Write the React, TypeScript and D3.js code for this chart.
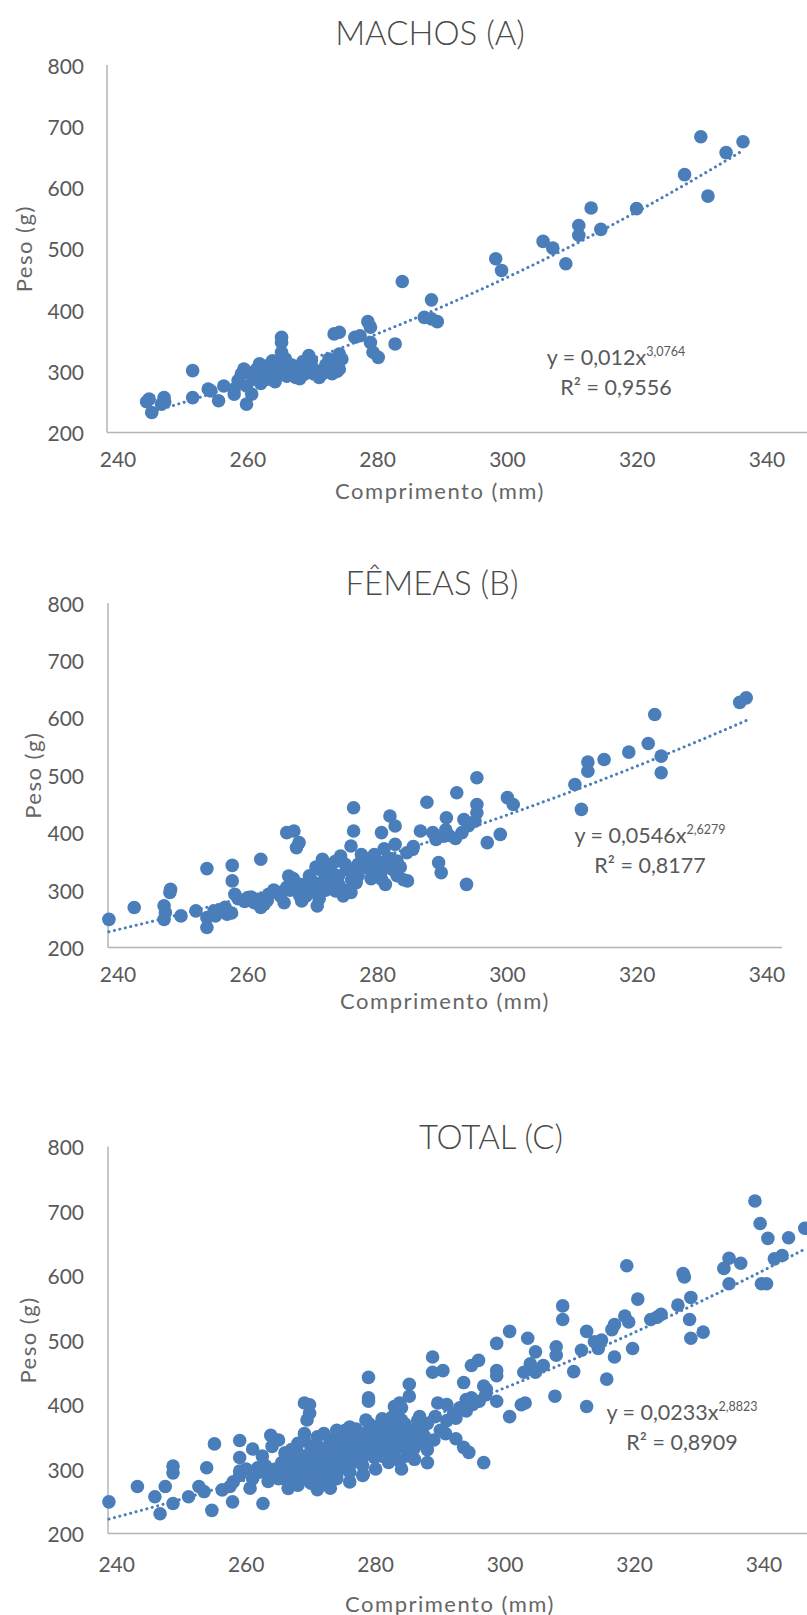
import React from "react";
import * as d3 from "d3";

const W = 807;
const H = 1615;
const BLUE = "#4a7ebb";
const TEXT = "#595959";
const AXIS = "#b4b4b4";
const FONT = "Lato, 'Open Sans', sans-serif";

const xTicks = [240, 260, 280, 300, 320, 340];
const yTicks = [200, 300, 400, 500, 600, 700, 800];

// comprimento (mm), peso (g)
const machos: [number, number][] = [
  [244.8, 254.5], [245.2, 232.7], [244.4, 250.3], [246.7, 246.4], [247.1, 257], [247.2, 250],
  [251.5, 301], [251.5, 257], [253.9, 271], [254.3, 268], [255.5, 251.8], [256.3, 276],
  [257.9, 271], [257.9, 262.7], [258.5, 285], [259, 295.5], [259.4, 303.6], [259.8, 276],
  [259.8, 246.4], [260.6, 262.7], [260.6, 292.7], [260.2, 298], [261.4, 303.6], [261.8, 312],
  [261, 287], [262, 280], [262.5, 300], [263, 309], [263, 287], [263.5, 296], [263.8, 317],
  [264, 305], [264.2, 283], [264.6, 292.7], [264.8, 312], [265.2, 355.5], [265.2, 347],
  [265.2, 331], [265.5, 300], [265.8, 320], [266, 292], [266.8, 310], [267.4, 290], [267.5, 298],
  [268, 288], [268.5, 316], [268.6, 303.6], [269.4, 325.5], [269.4, 309], [269.8, 318],
  [270.2, 295.5], [270.5, 300], [271, 290], [271.4, 301], [272, 310], [272.5, 320], [272.5, 306],
  [273, 296], [273.3, 314.6], [273.3, 361], [273.8, 300], [274.1, 303.6], [274.1, 328],
  [274.1, 363.7], [274.5, 320], [276.5, 355.5], [277.3, 358], [278.5, 381], [278.9, 372],
  [278.9, 347], [279.3, 331], [280.1, 322.7], [282.7, 344.6], [283.8, 446.6], [287.2, 388],
  [288.3, 385.5], [288.3, 416.6], [289.2, 381], [298.2, 483.7], [299.1, 464.6], [305.5, 512],
  [307, 501], [309, 475.5], [311, 538], [311, 522], [312.9, 566.6], [314.4, 531.7],
  [319.9, 565.5], [327.3, 621], [329.8, 682.8], [330.9, 586], [333.7, 657], [336.3, 674.6],
  [262.8, 292], [264.5, 300], [266.5, 297], [267, 305], [270, 305], [271.5, 296], [263.5, 288],
  [268.7, 295], [272.3, 300], [261.5, 295],
];

const femeas: [number, number][] = [
  [238.6, 249], [242.5, 269.6], [247.1, 272.5], [247.1, 249], [247.3, 261], [248.1, 301.4],
  [248, 295.7], [249.7, 255], [252, 263.8], [253.7, 252], [253.7, 234.8], [253.7, 337.4],
  [254.8, 263.8], [255, 255], [256, 266.7], [256.5, 270], [256.8, 258], [257.5, 260],
  [257.6, 343], [257.6, 316], [258, 292.8], [258.5, 285], [259.5, 280], [260, 287],
  [260.5, 288], [261, 278], [261.6, 284], [262, 269.6], [262, 353.6], [262.5, 275], [263, 282],
  [263.2, 292.8], [264, 300], [264.8, 295.7], [265, 290], [265.6, 278], [266, 400], [266, 305],
  [266.3, 324.6], [267, 320], [267.1, 403], [267.1, 316], [267.5, 374], [267.9, 382.6],
  [268, 290], [268.3, 281], [268.7, 301.4], [268.8, 310], [269.5, 295.7], [269.5, 325],
  [270, 300], [270.5, 340], [270.7, 272.5], [271, 285], [271.1, 336], [271.5, 353.6],
  [271.8, 318], [272.2, 345], [272.7, 318.8], [273, 330], [273.5, 298.6], [273.5, 350],
  [274, 310], [274.3, 359.4], [274.7, 290], [274.8, 300], [275.5, 335], [275.9, 295.7],
  [275.9, 376.8], [276, 318], [276.3, 443.5], [276.3, 403], [276.7, 313], [277, 345],
  [277.5, 362], [278, 355], [278.5, 338], [279, 353.6], [279, 320], [279.5, 362], [279.8, 330.4],
  [280, 345], [280.5, 330], [280.6, 318.8], [280.6, 400], [281, 372], [281.2, 310],
  [281.5, 353.6], [281.9, 429], [282, 340], [282.3, 336], [282.7, 411.6], [282.7, 379.7],
  [283, 350.7], [283, 325], [284, 318], [284.5, 365], [284.6, 316], [285.4, 371], [285.5, 376],
  [286.6, 403], [287.6, 453], [288.5, 400], [289, 388], [289.4, 347.8], [289.8, 330.4],
  [290.2, 394], [290.5, 405], [290.6, 426], [291, 395], [292, 390], [292.2, 469.6], [293, 400],
  [293.3, 423], [293.7, 310], [294, 412], [295, 420], [295.3, 449], [295.3, 434.8],
  [295.3, 495.6], [296.9, 382.6], [298.9, 397], [300, 461], [300.9, 449], [310.4, 484],
  [311.4, 440.6], [312.4, 523], [312.4, 507], [314.9, 527.5], [318.7, 540.3], [321.7, 555.4],
  [322.7, 605.8], [323.7, 533.3], [323.7, 504.3], [335.8, 627], [336.8, 634.8],
  [266.5, 300], [268, 310], [270, 315], [272, 300], [274, 325], [276, 330], [278, 340],
  [280, 350], [282, 355], [283.5, 340], [279, 335], [277, 325], [275, 345], [273, 315],
  [271, 305], [269, 290],
];

const total: [number, number][] = [
  [238.8, 249.1], [243.2, 272.9], [245.9, 257], [246.7, 230.6], [247.5, 272.9], [248.7, 246.5],
  [248.7, 294], [248.7, 304.6], [251.1, 257], [252.7, 272.9], [253.5, 265], [253.9, 302],
  [254.7, 235.9], [255.1, 338.9], [256.3, 267.6], [257.5, 272.9], [257.9, 249.1], [258, 280],
  [259, 290], [259, 296.7], [259, 317.8], [259, 344.2], [260, 300], [260.6, 270.3], [261, 285],
  [261, 331], [261.8, 302], [262, 295], [262.6, 246.5], [262.5, 320], [263, 305], [263.4, 280.8],
  [263.8, 352.1], [264, 290], [264, 335], [264.5, 300], [265, 285], [265, 345], [265.4, 286],
  [265.5, 310], [265.8, 307.2], [266, 295], [266, 325], [266.5, 280], [266.5, 270], [266.6, 323],
  [267, 300], [267, 330], [267.5, 315], [267.8, 333.6], [267.8, 275.5], [268, 290], [268, 340],
  [268, 275], [268.5, 305], [269, 320], [269, 345], [269, 354.8], [269, 402.3], [269.4, 375.9],
  [269.5, 285], [269.8, 386.5], [269.8, 399.7], [270, 300], [270, 335], [270, 278], [270.5, 312],
  [271, 295], [271, 350], [271, 268], [271.3, 333.6], [271.5, 325], [272, 305], [272, 355],
  [272, 280], [272.5, 290], [273, 318], [273, 345], [273, 344.2], [273, 270.3], [273.5, 335],
  [274, 300], [274, 360], [274, 285], [274.1, 354.8], [274.5, 322], [275, 310], [275, 355],
  [275.3, 360], [275.5, 340], [276, 295], [276, 365], [276, 280], [276.5, 330], [276.9, 344.2],
  [276.9, 328.4], [277, 315], [277.5, 350], [278, 305], [278, 290], [278.1, 291.4], [278.5, 340],
  [278.5, 333.6], [278.5, 375.9], [278.9, 405], [278.9, 410.2], [278.9, 442], [279, 325],
  [279.5, 360], [280, 335], [280, 300], [280.1, 365.3], [280.5, 350], [281, 320], [281.3, 352.1],
  [281.5, 365], [281.7, 320.4], [282, 340], [282, 310], [282.5, 380], [282.5, 360], [282.9, 397],
  [283, 330], [283, 385], [283.5, 355], [283.7, 402.3], [283.7, 312.5], [284, 345], [284, 375.9],
  [284, 300], [284, 395], [284.5, 370], [284.8, 320.4], [285, 325], [285.2, 412.9],
  [285.2, 431.4], [285.5, 360], [286, 350], [286, 315], [286, 333.6], [286.5, 375],
  [286.8, 381.2], [287, 340], [287.6, 349.5], [288, 370.6], [288, 309.9], [288, 330],
  [288.8, 449.9], [288.8, 473.6], [289, 345], [289.2, 381.2], [289.6, 402.3], [290, 360],
  [290.4, 452.5], [290.8, 354.8], [291, 375], [291, 400], [292, 385], [292.4, 378.6],
  [292.4, 346.9], [293, 395], [293.2, 391.8], [293.6, 434], [293.6, 333.6], [294, 407.6],
  [294, 390], [294.4, 325.7], [294.8, 410.2], [294.8, 460.4], [295, 400], [295.9, 468.4],
  [296, 405], [296.7, 428.7], [296.7, 309.9], [297, 415], [297.1, 423.5], [298.7, 405],
  [298.7, 444.6], [298.7, 452.5], [298.7, 494.7], [300.7, 381.2], [300.7, 513.3],
  [302.5, 399.7], [302.9, 449.9], [303.1, 402.3], [303.5, 502.7], [303.9, 463], [304.7, 449.9],
  [304.7, 481.6], [305.9, 460.4], [307.7, 412.9], [307.9, 476.3], [307.9, 489.5],
  [308.9, 531.7], [308.9, 552.9], [310.6, 451], [311.8, 484.2], [312.6, 397], [312.6, 513.3],
  [313.8, 497.4], [314.4, 486.8], [314.9, 500], [315.7, 439.3], [316.5, 516], [316.9, 473.6],
  [316.9, 523.8], [318.5, 537], [318.8, 615.2], [319.1, 528], [319.7, 486.8], [320.5, 563.4],
  [322.5, 531.7], [323.5, 535.4], [324.1, 539.7], [326.7, 554], [327.5, 603], [327.7, 597.8],
  [328.5, 531.7], [328.7, 566], [328.7, 502.7], [330.6, 512.2], [333.8, 611], [334.6, 626.8],
  [334.6, 587.2], [336.4, 619], [338.6, 715.6], [339.4, 680.7], [339.6, 587.2], [340.4, 587.2],
  [340.6, 657.5], [341.6, 625.8], [342.8, 631], [343.8, 658.5], [346.3, 673.3],
  [264.8, 295], [265.7, 303], [266.3, 288], [266.8, 312], [267.3, 296], [267.8, 305],
  [268.3, 318], [268.8, 295], [269.3, 308], [269.8, 292], [270.3, 325], [270.8, 305],
  [271.3, 315], [271.8, 298], [272.3, 330], [272.8, 310], [273.3, 300], [273.8, 325],
  [274.3, 312], [274.8, 340], [275.3, 320], [275.8, 300], [276.3, 345], [276.8, 322],
  [277.3, 335], [277.8, 310], [278.3, 355], [278.8, 330], [279.3, 345], [279.8, 318],
  [280.3, 340], [280.8, 360], [281.3, 330], [281.8, 350], [282.3, 325], [282.8, 345],
  [283.3, 365], [283.8, 335], [284.3, 355], [284.8, 340], [285.3, 345], [285.8, 330],
  [286.3, 360], [287.3, 355], [270.5, 290], [272, 285], [274, 292], [276, 305], [278, 318],
  [280, 325], [267, 285], [265, 300], [269, 315], [271, 330], [273, 340], [275, 348],
  [277, 362], [279, 370], [281, 378], [283, 350],
];

const panels = [
  {
    title: "MACHOS (A)", data: machos, eq: "y = 0,012x", exp: "3,0764", r2: "R² = 0,9556",
    top: 65, bottom: 432.5, left: 107, right: 807, x240: 118, x340: 767,
    titleX: 430, titleY: 45, tickY: 458, xTitleX: 440, xTitleY: 490, yTitleX: 23,
    eqX: 616, eqY: 365,
  },
  {
    title: "FÊMEAS (B)", data: femeas, eq: "y = 0,0546x", exp: "2,6279", r2: "R² = 0,8177",
    top: 603, bottom: 947.5, left: 108, right: 782, x240: 118, x340: 767,
    titleX: 432, titleY: 595, tickY: 973, xTitleX: 445, xTitleY: 1000, yTitleX: 32,
    eqX: 650, eqY: 843,
  },
  {
    title: "TOTAL (C)", data: total, eq: "y = 0,0233x", exp: "2,8823", r2: "R² = 0,8909",
    top: 1146.5, bottom: 1533.5, left: 108, right: 807, x240: 116.7, x340: 764,
    titleX: 491, titleY: 1149, tickY: 1563, xTitleX: 450, xTitleY: 1603, yTitleX: 27,
    eqX: 682, eqY: 1420,
  },
];

// power trend, least squares on logs (as Excel does)
function powerFit(data: [number, number][]) {
  const lx = data.map((d) => Math.log(d[0]));
  const ly = data.map((d) => Math.log(d[1]));
  const mx = d3.mean(lx) as number;
  const my = d3.mean(ly) as number;
  let num = 0, den = 0;
  lx.forEach((v, i) => { num += (v - mx) * (ly[i] - my); den += (v - mx) ** 2; });
  const b = num / den;
  const a = Math.exp(my - b * mx);
  const [x0, x1] = d3.extent(data, (d) => d[0]) as [number, number];
  return d3.range(0, 41).map((i) => {
    const x = x0 + ((x1 - x0) * i) / 40;
    return [x, a * Math.pow(x, b)] as [number, number];
  });
}

function Panel({ p }: { p: (typeof panels)[number] }) {
  const x = d3.scaleLinear().domain([240, 340]).range([p.x240, p.x340]);
  const y = d3.scaleLinear().domain([200, 800]).range([p.bottom, p.top]);
  const line = d3.line<[number, number]>().x((d) => x(d[0])).y((d) => y(d[1]));
  const trend = powerFit(p.data);
  const midY = (p.top + p.bottom) / 2;
  return (
    <g>
      <text x={p.titleX} y={p.titleY} textAnchor="middle" fontSize={33} fontWeight={300} fill="#4a4a4a">
        {p.title}
      </text>
      <line x1={p.left} x2={p.left} y1={p.top} y2={p.bottom} stroke={AXIS} strokeWidth={1.5} />
      <line x1={p.left} x2={p.right} y1={p.bottom} y2={p.bottom} stroke={AXIS} strokeWidth={1.5} />
      {yTicks.map((t) => (
        <text key={t} x={84} y={y(t)} textAnchor="end" dominantBaseline="central" fontSize={21} fill={TEXT}>
          {t}
        </text>
      ))}
      {xTicks.map((t) => (
        <text key={t} x={x(t)} y={p.tickY} textAnchor="middle" dominantBaseline="central" fontSize={21} fill={TEXT}>
          {t}
        </text>
      ))}
      <text x={p.xTitleX} y={p.xTitleY} textAnchor="middle" dominantBaseline="central" fontSize={22} fill="#666" letterSpacing={1.5}>
        Comprimento (mm)
      </text>
      <text
        transform={`translate(${p.yTitleX},${midY}) rotate(-90)`}
        textAnchor="middle" dominantBaseline="central" fontSize={22} fill="#666" letterSpacing={1.5}
      >
        Peso (g)
      </text>
      {p.data.map((d, i) => (
        <circle key={i} cx={x(d[0])} cy={y(d[1])} r={6.8} fill={BLUE} />
      ))}
      <path d={line(trend) || ""} fill="none" stroke={BLUE} strokeWidth={3} strokeDasharray="0.1 5.5" strokeLinecap="round" />
      <text x={p.eqX} y={p.eqY} textAnchor="middle" fontSize={21.5} fill={TEXT}>
        {p.eq}
        <tspan fontSize={12.5} dy={-9}>{p.exp}</tspan>
      </text>
      <text x={p.eqX} y={p.eqY + 30} textAnchor="middle" fontSize={21.5} fill={TEXT}>
        {p.r2}
      </text>
    </g>
  );
}

export default function App() {
  return (
    <svg
      width={W}
      height={H}
      style={{ position: "absolute", left: 0, top: 0, background: "#fff", fontFamily: FONT }}
    >
      <rect width={W} height={H} fill="#fff" />
      {panels.map((p) => (
        <Panel key={p.title} p={p} />
      ))}
    </svg>
  );
}
